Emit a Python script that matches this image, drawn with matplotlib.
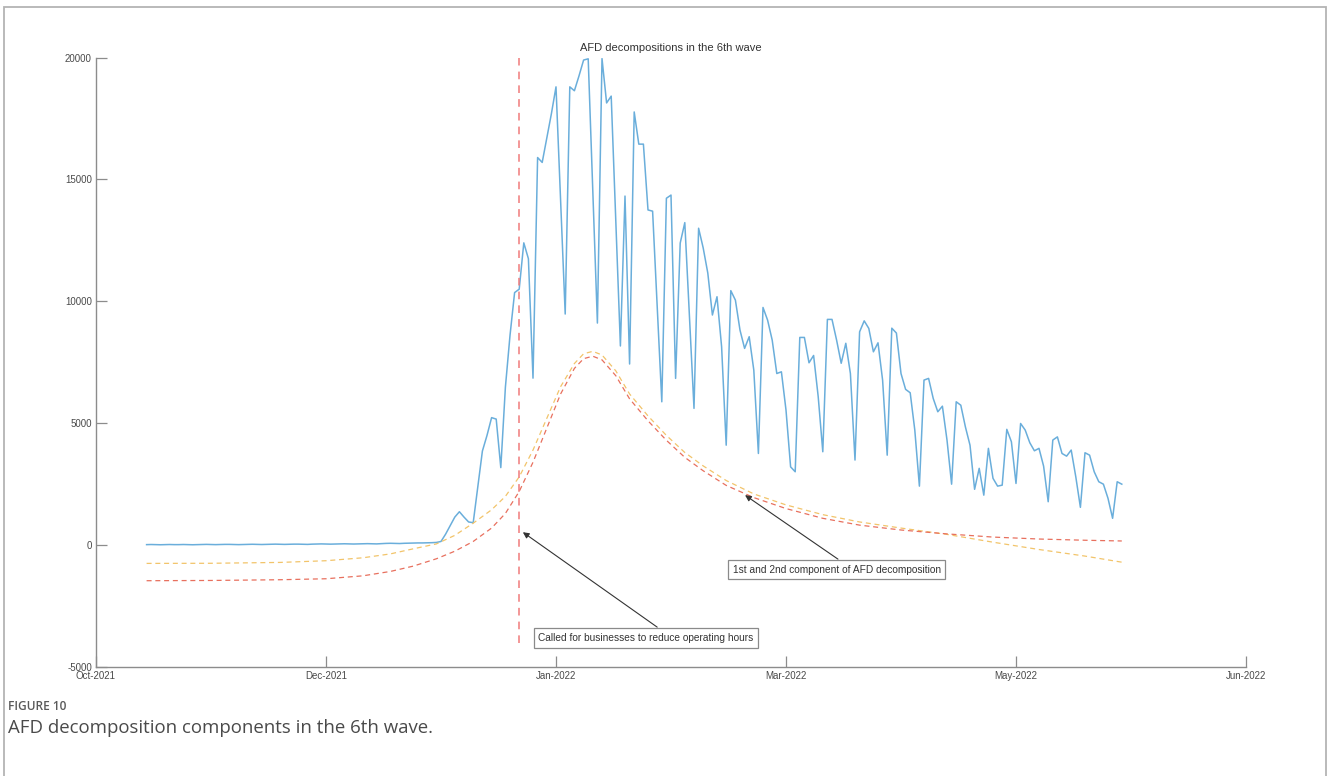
import numpy as np
import matplotlib
matplotlib.use("Agg")
import matplotlib.pyplot as plt
from matplotlib.patches import Rectangle

# x positions are days counted from the first tick (Oct-2021)
tick_days = [0, 50, 100, 150, 200, 250]
tick_labels = ["Oct-2021", "Dec-2021", "Jan-2022", "Mar-2022", "May-2022", "Jun-2022"]
y_ticks = [-5000, 0, 5000, 10000, 15000, 20000]

first_day = 11
cases = [
    20, 25, 20, 15, 20, 25, 20, 20, 25, 20, 15, 20, 25, 30, 25, 20, 25, 30, 30, 25,
    20, 25, 30, 35, 30, 25, 30, 35, 40, 35, 30, 35, 40, 40, 35, 30, 40, 45, 50, 45,
    40, 45, 50, 55, 50, 45, 50, 55, 60, 55, 50, 60, 70, 75, 70, 65, 75, 80,
    85, 90, 90, 95, 100, 110, 150,
    450, 800, 1150, 1370, 1150, 950, 920, 2400, 3860, 4500,
    5230, 5170, 3180, 6480, 8600, 10360, 10500, 12400, 11750, 6850,
    15900, 15700, 16700, 17700, 18800, 14100, 9480, 18800, 18640, 19250,
    19900, 19950, 14500, 9110, 19960, 18140, 18420, 13300, 8170, 14320,
    7430, 17770, 16450, 16450, 13750, 13700, 9800, 5880, 14230, 14360,
    6840, 12390, 13230, 9400, 5610, 13000, 12190, 11160, 9440, 10190,
    8140, 4100, 10440, 10050, 8820, 8070, 8550, 7180, 3760, 9750,
    9230, 8410, 7040, 7110, 5540, 3210, 3010, 8520, 8520, 7480,
    7780, 6090, 3830, 9260, 9260, 8410, 7460, 8280, 7040, 3490,
    8750, 9200, 8890, 7930, 8300, 6770, 3690, 8900, 8700, 7040,
    6390, 6250, 4720, 2420, 6770, 6840, 6020, 5470, 5700, 4310,
    2500, 5880, 5740, 4850, 4100, 2290, 3150, 2050, 3970, 2740,
    2420, 2460, 4750, 4240, 2530, 4990, 4720, 4200, 3870, 3970,
    3240, 1780, 4310, 4440, 3760, 3650, 3900, 2800, 1550, 3790,
    3690, 3010, 2600, 2500, 1920, 1100, 2600, 2500,
]

# AFD components, read at these days
comp_days = [11, 25, 40, 50, 58, 64, 69, 74, 78, 82, 86, 89, 92, 95, 98, 101, 104,
             106, 108, 110, 113, 116, 120, 124, 128, 132, 137, 143, 150, 158, 166,
             175, 185, 195, 205, 215, 223]
comp1 = [-750, -745, -710, -640, -520, -360, -150, 50, 400, 900, 1450, 2000, 2800,
         3900, 5200, 6500, 7450, 7850, 7950, 7800, 7150, 6200, 5300, 4500, 3800, 3250,
         2650, 2100, 1650, 1250, 950, 700, 440, 120, -180, -450, -700]
comp2 = [-1460, -1450, -1420, -1380, -1260, -1080, -860, -560, -250, 150, 700, 1300,
         2200, 3400, 4800, 6200, 7250, 7650, 7750, 7600, 6950, 6000, 5100, 4300, 3600,
         3050, 2450, 1950, 1500, 1100, 820, 620, 460, 330, 250, 200, 170]

event_day = 92
event_span = [-4000, 20000]

plt.rcParams['font.family'] = ['Liberation Sans', 'DejaVu Sans']
plt.rcParams['axes.unicode_minus'] = False

fig = plt.figure(figsize=(13.28, 7.76), dpi=100)
fig.patches.append(Rectangle((4 / 1328, -0.05), 1322 / 1328, 1.05 - 7 / 776,
                             transform=fig.transFigure, fill=False,
                             edgecolor='#b4b4b4', lw=1.3))

ax = fig.add_axes([96 / 1328, 1 - 667 / 776, 1150 / 1328, (667 - 57.6) / 776])

days = np.arange(first_day, first_day + len(cases))
ax.plot(days, cases, color='#6aaedb', lw=1.1)
ax.plot(comp_days, comp1, color='#f2c46a', lw=0.9, ls=(0, (4, 3)))
ax.plot(comp_days, comp2, color='#e8705e', lw=0.9, ls=(0, (4, 3)))
ax.plot([event_day, event_day], event_span, color='#f07a7a', lw=1.1, ls=(0, (5, 4)))

ax.set_xlim(0, 250)
ax.set_ylim(-5000, 20000)
ax.set_xticks(tick_days)
ax.set_xticklabels(tick_labels)
ax.set_yticks(y_ticks)
for s in ['top', 'right']:
    ax.spines[s].set_visible(False)
for s in ['left', 'bottom']:
    ax.spines[s].set_color('#8c8c8c')
    ax.spines[s].set_linewidth(1.0)
ax.tick_params(direction='in', length=8, width=0.9, color='#8c8c8c',
               labelsize=7, labelcolor='#4a4a4a', pad=3)

ax.set_title('AFD decompositions in the 6th wave', fontsize=8, color='#333333', pad=5)

arrow = dict(arrowstyle='-|>', color='#333333', lw=0.8, mutation_scale=9,
             shrinkA=0, shrinkB=0)
box = dict(boxstyle='square,pad=0.45', fc='white', ec='#8a8a8a', lw=0.9)

ax.annotate('', xy=(92.8, 530), xytext=(122.0, -3365), arrowprops=arrow)
ax.text(119.5, -3810, 'Called for businesses to reduce operating hours',
        fontsize=7.3, color='#333333', ha='center', va='center', bbox=box)

ax.annotate('', xy=(141.1, 2050), xytext=(161.3, -575), arrowprops=arrow)
ax.text(161.0, -1005, '1st and 2nd component of AFD decomposition',
        fontsize=7.3, color='#333333', ha='center', va='center', bbox=box)

fig.text(8 / 1328, 1 - 706 / 776, 'FIGURE 10', fontsize=8.6, color='#5a5a5a',
         family=['Open Sans', 'DejaVu Sans'], va='center', ha='left', weight='semibold')
fig.text(8 / 1328, 1 - 728 / 776, 'AFD decomposition components in the 6th wave.',
         fontsize=13.4, color='#4a4a4a', family=['Open Sans', 'DejaVu Sans'],
         va='center', ha='left')

fig.savefig('out.png', dpi=100)
